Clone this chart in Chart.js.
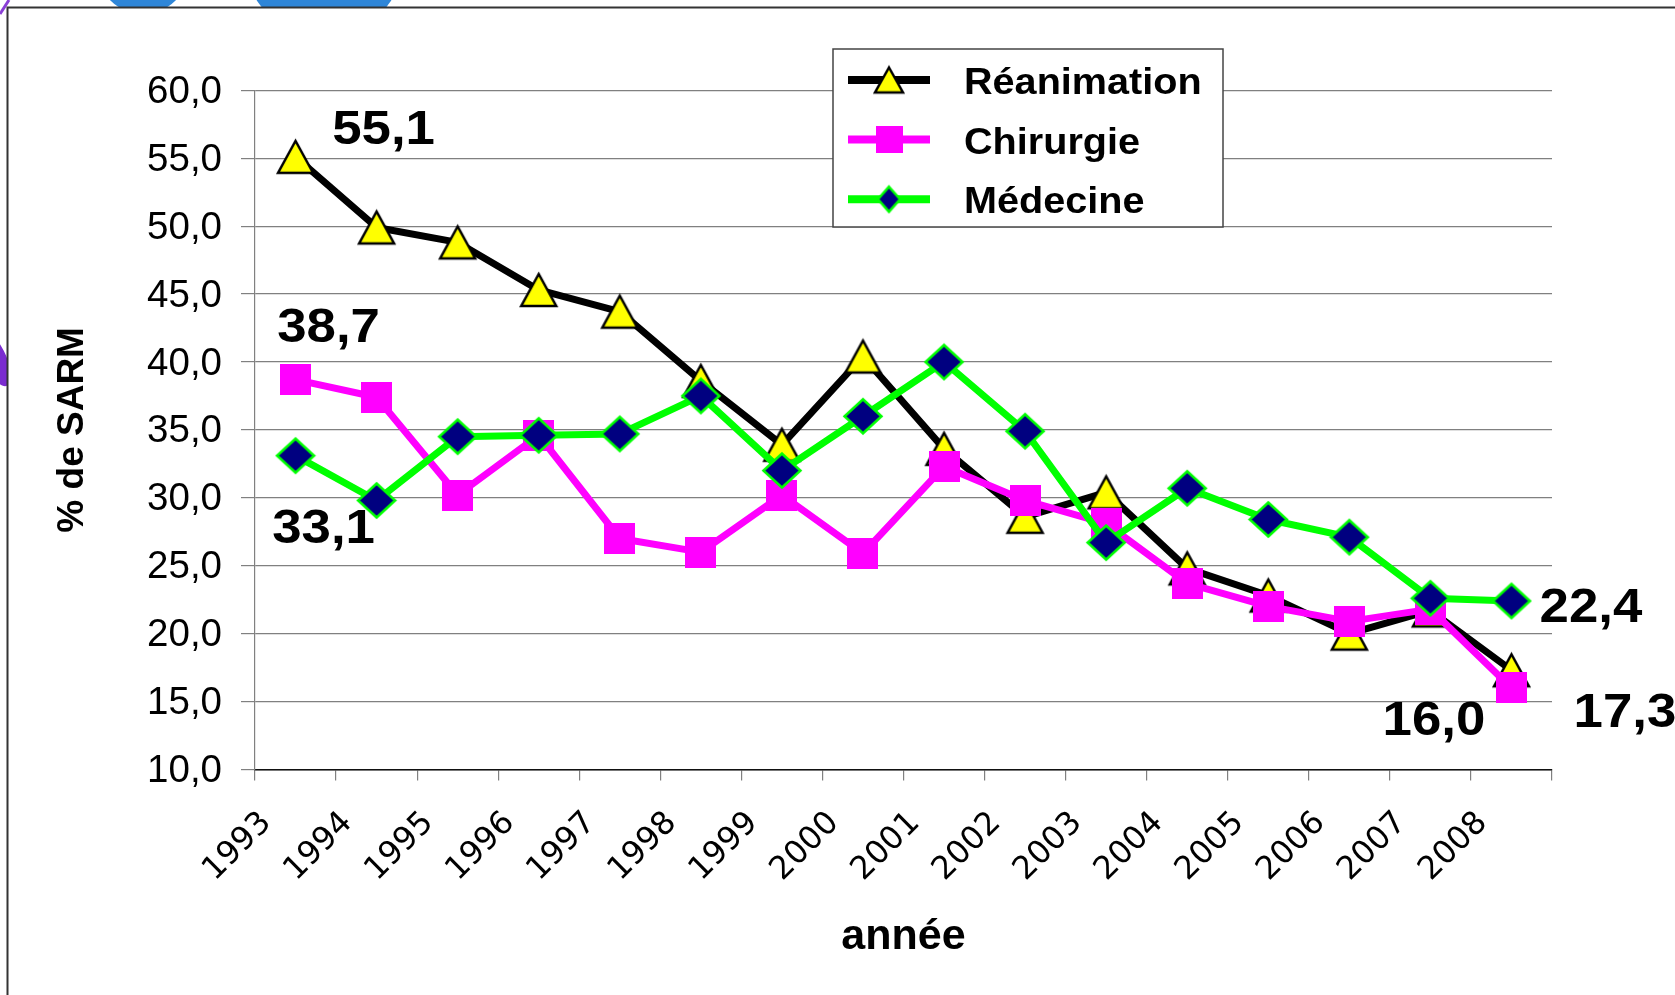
<!DOCTYPE html>
<html>
<head>
<meta charset="utf-8">
<script src="https://cdn.jsdelivr.net/npm/chart.js@4"></script>
<style>
  html, body { margin: 0; padding: 0; background: #fff; }
  #wrap { width: 1675px; height: 995px; position: relative; }
</style>
</head>
<body>
<div id="wrap"><canvas id="sarmChart" width="1675" height="995"></canvas></div>
<script>
// values (% de SARM per year)
var years = ['1993', '1994', '1995', '1996', '1997', '1998', '1999', '2000',
             '2001', '2002', '2003', '2004', '2005', '2006', '2007', '2008'];
var reanimation = [55.1, 49.9, 48.8, 45.3, 43.7, 38.6, 33.9, 40.4, 33.6, 28.6, 30.4, 24.8, 22.8, 20.0, 21.7, 17.3];
var chirurgie   = [38.7, 37.4, 30.2, 34.6, 27.0, 26.0, 30.2, 25.9, 32.3, 29.8, 28.1, 23.7, 22.0, 20.9, 21.8, 16.0];
var medecine    = [33.1, 29.8, 34.5, 34.6, 34.7, 37.5, 32.0, 36.0, 40.0, 34.9, 26.7, 30.7, 28.4, 27.1, 22.6, 22.4];
var seriesNames = ['Réanimation', 'Chirurgie', 'Médecine'];
var yMin = 10, yMax = 60, yStep = 5;
var xTitle = 'année';
var yTitle = '% de SARM';

// which points get a value label, and the text offset from the point (px)
var valueLabels = [
    { ds: 0, i: 0,  dx: 88,    dy: -13 },
    { ds: 1, i: 0,  dx: 33,    dy: -38 },
    { ds: 2, i: 0,  dx: 28,    dy: 87 },
    { ds: 2, i: 15, dx: 79.5,  dy: 21 },
    { ds: 1, i: 15, dx: -77.5, dy: 47 },
    { ds: 0, i: 15, dx: 113.5, dy: 57 }
];

function fmt(v) { return v.toFixed(1).replace('.', ','); }

// marker images, centred on their bounding box like the original
function makeTriangle(w, h, lw) {
    var c = document.createElement('canvas');
    c.width = Math.ceil(w + lw * 4); c.height = Math.ceil(h + lw * 4);
    var g = c.getContext('2d');
    var cx = c.width / 2, cy = c.height / 2;
    g.beginPath();
    g.moveTo(cx, cy - h / 2);
    g.lineTo(cx + w / 2, cy + h / 2);
    g.lineTo(cx - w / 2, cy + h / 2);
    g.closePath();
    g.fillStyle = '#FFFF00'; g.fill();
    g.lineWidth = lw; g.strokeStyle = '#000'; g.stroke();
    return c;
}
function makeSquare(s) {
    var c = document.createElement('canvas');
    c.width = s; c.height = s;
    var g = c.getContext('2d');
    g.fillStyle = '#FF00FF'; g.fillRect(0, 0, s, s);
    return c;
}
function makeDiamond(w, h, lw) {
    var c = document.createElement('canvas');
    c.width = Math.ceil(w + lw * 2); c.height = Math.ceil(h + lw * 2);
    var g = c.getContext('2d');
    var cx = c.width / 2, cy = c.height / 2;
    g.beginPath();
    g.moveTo(cx, cy - h / 2);
    g.lineTo(cx + w / 2, cy);
    g.lineTo(cx, cy + h / 2);
    g.lineTo(cx - w / 2, cy);
    g.closePath();
    g.fillStyle = '#000080'; g.fill();
    g.lineWidth = lw; g.strokeStyle = '#00FF00'; g.stroke();
    return c;
}

var markers = [makeTriangle(35, 32, 2.5), makeSquare(31), makeDiamond(37, 34, 2.5)];
var legendMarkers = [makeTriangle(28, 25, 2.5), makeSquare(27), makeDiamond(22, 25, 2.5)];
var lineColors = ['#000000', '#FF00FF', '#00FF00'];

var backdropPlugin = {
    id: 'backdrop',
    beforeDraw: function(chart) {
        var c = chart.ctx;
        c.save();
        c.fillStyle = '#fff';
        c.fillRect(0, 0, chart.width, chart.height);
        // bits of the slide behind the chart frame
        c.fillStyle = '#2f86d8';
        c.beginPath(); c.arc(143, -32, 46, 0, Math.PI * 2); c.fill();
        c.beginPath(); c.arc(324, -43, 80, 0, Math.PI * 2); c.fill();
        c.fillStyle = '#7a2ccf';
        c.beginPath(); c.ellipse(-4, 360, 11, 28, -0.4, 0, Math.PI * 2); c.fill();
        c.strokeStyle = '#8a3fd6'; c.lineWidth = 3;
        c.beginPath(); c.moveTo(9, 0); c.lineTo(0, 14); c.stroke();
        c.fillStyle = '#fff';
        c.fillRect(8, 8, chart.width, chart.height);
        c.strokeStyle = '#333'; c.lineWidth = 2;
        c.strokeRect(7.5, 7.5, chart.width + 20, chart.height + 20);
        c.restore();
    }
};

var overlayPlugin = {
    id: 'overlay',
    afterDatasetsDraw: function(chart) {
        var c = chart.ctx;
        c.save();

        // legend box
        c.fillStyle = '#fff';
        c.fillRect(833, 49, 390, 178);
        c.strokeStyle = '#444'; c.lineWidth = 1.5;
        c.strokeRect(833, 49, 390, 178);
        for (var k = 0; k < seriesNames.length; k++) {
            var base = 94 + k * 59.6;
            var ly = base - 14;
            c.strokeStyle = lineColors[k]; c.lineWidth = 8;
            c.beginPath(); c.moveTo(848, ly); c.lineTo(930, ly); c.stroke();
            var m = legendMarkers[k];
            c.drawImage(m, 889 - m.width / 2, ly - m.height / 2);
            c.save();
            c.translate(964, base); c.scale(1.1, 1);
            c.fillStyle = '#000'; c.font = 'bold 36px "Liberation Sans", Arial, sans-serif';
            c.textAlign = 'left'; c.textBaseline = 'alphabetic';
            c.fillText(seriesNames[k], 0, 0);
            c.restore();
        }

        // value labels
        valueLabels.forEach(function(l) {
            var pt = chart.getDatasetMeta(l.ds).data[l.i];
            var v = chart.data.datasets[l.ds].data[l.i];
            c.save();
            c.translate(pt.x + l.dx, pt.y + l.dy); c.scale(1.1, 1);
            c.fillStyle = '#000'; c.font = 'bold 48px "Liberation Sans", Arial, sans-serif';
            c.textAlign = 'center'; c.textBaseline = 'alphabetic';
            c.fillText(fmt(v), 0, 0);
            c.restore();
        });
        c.restore();
    }
};

function series(label, data, idx, order) {
    return {
        label: label,
        data: data,
        borderColor: lineColors[idx],
        backgroundColor: lineColors[idx],
        borderWidth: 7,
        borderJoinStyle: 'round',
        tension: 0,
        fill: false,
        pointStyle: markers[idx],
        pointRadius: 16,
        pointHoverRadius: 16,
        clip: false,
        order: order
    };
}

var ctx = document.getElementById('sarmChart').getContext('2d');
var chart = new Chart(ctx, {
    type: 'line',
    data: {
        labels: years,
        datasets: [
            series(seriesNames[0], reanimation, 0, 3),
            series(seriesNames[1], chirurgie, 1, 2),
            series(seriesNames[2], medecine, 2, 1)
        ]
    },
    plugins: [backdropPlugin, overlayPlugin],
    options: {
        responsive: false,
        devicePixelRatio: 1,
        animation: false,
        events: [],
        layout: { padding: { top: 90.3, right: 123, bottom: 0, left: 0 } },
        plugins: {
            legend: { display: false },
            tooltip: { enabled: false }
        },
        scales: {
            x: {
                type: 'category',
                offset: true,
                afterFit: function(scale) { scale.height = 225.6; },
                grid: { offset: true, drawOnChartArea: false, drawTicks: true, tickLength: 11, color: '#808080', lineWidth: 1.2 },
                border: { display: true, color: '#111', width: 1.5 },
                ticks: {
                    color: '#000',
                    font: { family: '"DejaVu Sans", sans-serif', size: 32 },
                    minRotation: 45, maxRotation: 45,
                    autoSkip: false,
                    labelOffset: -29,
                    padding: 24
                },
                title: {
                    display: true, text: xTitle, color: '#000',
                    font: { family: '"Liberation Sans", Arial, sans-serif', size: 43, weight: 'bold' },
                    padding: { top: 0, bottom: 32 }
                }
            },
            y: {
                min: yMin, max: yMax,
                afterFit: function(scale) { scale.width = 255; },
                grid: { color: '#808080', lineWidth: 1.2, tickLength: 14, drawTicks: true },
                border: { display: true, color: '#808080', width: 1.2 },
                ticks: {
                    stepSize: yStep,
                    color: '#000',
                    padding: 19,
                    labelOffset: 2,
                    font: { family: '"Liberation Sans", Arial, sans-serif', size: 38.5 },
                    callback: function(v) { return fmt(v); }
                },
                title: {
                    display: true, text: yTitle, color: '#000',
                    font: { family: '"Liberation Sans", Arial, sans-serif', size: 37, weight: 'bold' },
                    padding: { top: 51, bottom: 0 }
                }
            }
        }
    }
});
</script>
</body>
</html>
